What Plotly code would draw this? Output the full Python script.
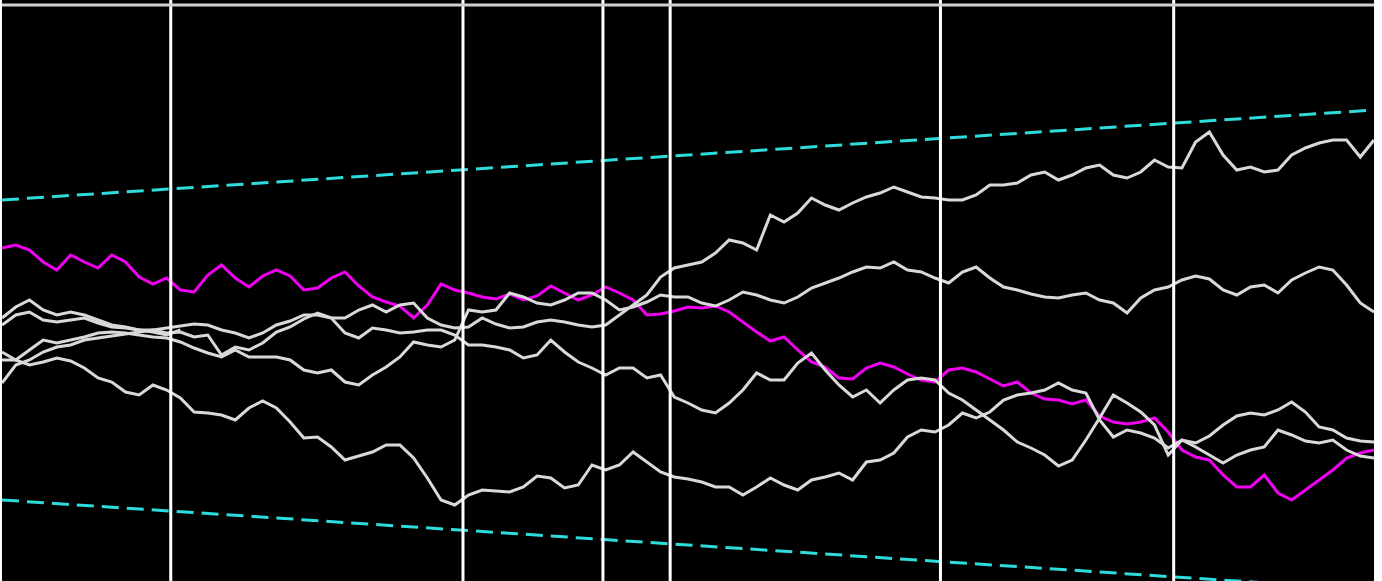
import plotly.graph_objects as go

# time grid step (arbitrary time units, 0..1000)
step = 10

magenta_walk = [
    1.02, 1.05, 1.00, 0.88, 0.80, 0.95, 0.88, 0.82, 0.95, 0.88,
    0.73, 0.66, 0.72, 0.60, 0.58, 0.75, 0.85, 0.72, 0.63, 0.74,
    0.80, 0.74, 0.60, 0.62, 0.72, 0.78, 0.64, 0.53, 0.48, 0.44,
    0.32, 0.45, 0.66, 0.60, 0.57, 0.53, 0.51, 0.56, 0.50, 0.54,
    0.64, 0.57, 0.50, 0.55, 0.63, 0.57, 0.50, 0.35, 0.36, 0.39,
    0.43, 0.42, 0.44, 0.38, 0.28, 0.18, 0.09, 0.13, 0.00, -0.12,
    -0.17, -0.28, -0.29, -0.18, -0.13, -0.17, -0.24, -0.30, -0.32, -0.20,
    -0.18, -0.22, -0.29, -0.36, -0.32, -0.43, -0.49, -0.50, -0.54, -0.50,
    -0.66, -0.72, -0.74, -0.72, -0.68, -0.82, -1.00, -1.07, -1.10, -1.25,
    -1.37, -1.37, -1.25, -1.43, -1.50, -1.40, -1.30, -1.20, -1.08, -1.03, -1.00,
]

walk_1 = [
    0.32, 0.43, 0.50, 0.40, 0.35, 0.38, 0.35, 0.30, 0.25, 0.23,
    0.20, 0.20, 0.17, 0.18, 0.13, 0.15, -0.05, 0.03, 0.00, 0.07,
    0.18, 0.23, 0.31, 0.37, 0.32, 0.32, 0.40, 0.45, 0.38, 0.45,
    0.47, 0.32, 0.25, 0.22, 0.23, 0.32, 0.26, 0.22, 0.23, 0.28,
    0.30, 0.28, 0.25, 0.23, 0.25, 0.35, 0.45, 0.55, 0.73, 0.82,
    0.85, 0.88, 0.97, 1.10, 1.07, 1.00, 1.35, 1.28, 1.37, 1.52,
    1.45, 1.40, 1.47, 1.53, 1.57, 1.63, 1.58, 1.53, 1.52, 1.50,
    1.50, 1.55, 1.65, 1.65, 1.67, 1.75, 1.78, 1.70, 1.75, 1.82,
    1.85, 1.75, 1.72, 1.78, 1.90, 1.83, 1.82, 2.08, 2.18, 1.95,
    1.80, 1.83, 1.78, 1.80, 1.95, 2.02, 2.07, 2.10, 2.10, 1.93, 2.10,
]

walk_2 = [
    -0.02, -0.10, 0.00, 0.10, 0.07, 0.10, 0.13, 0.17, 0.18, 0.17,
    0.15, 0.13, 0.12, 0.08, 0.02, -0.03, -0.07, 0.00, -0.07, -0.07,
    -0.07, -0.10, -0.20, -0.23, -0.20, -0.32, -0.35, -0.25, -0.17, -0.07,
    0.08, 0.05, 0.03, 0.10, 0.40, 0.38, 0.40, 0.57, 0.53, 0.47,
    0.45, 0.50, 0.57, 0.57, 0.50, 0.40, 0.43, 0.48, 0.55, 0.53,
    0.53, 0.47, 0.44, 0.50, 0.58, 0.55, 0.50, 0.47, 0.53, 0.62,
    0.67, 0.72, 0.78, 0.83, 0.82, 0.88, 0.80, 0.78, 0.72, 0.67,
    0.78, 0.83, 0.72, 0.63, 0.60, 0.56, 0.53, 0.52, 0.55, 0.57,
    0.50, 0.47, 0.37, 0.52, 0.60, 0.63, 0.70, 0.74, 0.71, 0.60,
    0.55, 0.63, 0.65, 0.57, 0.70, 0.77, 0.83, 0.80, 0.65, 0.47, 0.38,
]

walk_3 = [
    -0.33, -0.15, -0.10, -0.02, 0.03, 0.05, 0.10, 0.12, 0.14, 0.16,
    0.18, 0.20, 0.22, 0.24, 0.26, 0.25, 0.20, 0.17, 0.12, 0.17,
    0.25, 0.29, 0.35, 0.35, 0.32, 0.17, 0.12, 0.22, 0.20, 0.17,
    0.18, 0.20, 0.20, 0.15, 0.05, 0.05, 0.03, 0.00, -0.08, -0.05,
    0.10, -0.02, -0.12, -0.18, -0.25, -0.18, -0.18, -0.28, -0.25, -0.47,
    -0.53, -0.60, -0.63, -0.53, -0.40, -0.23, -0.30, -0.30, -0.13, -0.03,
    -0.20, -0.35, -0.47, -0.40, -0.53, -0.40, -0.30, -0.28, -0.30, -0.43,
    -0.50, -0.60, -0.70, -0.80, -0.92, -0.98, -1.05, -1.16, -1.10, -0.90,
    -0.68, -0.45, -0.53, -0.62, -0.75, -1.05, -0.90, -0.97, -1.05, -1.13,
    -1.05, -1.00, -0.97, -0.80, -0.85, -0.91, -0.93, -0.90, -1.00, -1.06, -1.08,
]

walk_4 = [
    0.25, 0.35, 0.38, 0.30, 0.28, 0.30, 0.32, 0.27, 0.23, 0.22,
    0.20, 0.18, 0.15, 0.20,
]

walk_5 = [
    -0.10, -0.10, -0.15, -0.12, -0.08, -0.11, -0.18, -0.28, -0.32, -0.42,
    -0.45, -0.35, -0.40, -0.48, -0.62, -0.63, -0.65, -0.70, -0.58, -0.51,
    -0.58, -0.72, -0.88, -0.87, -0.97, -1.10, -1.06, -1.02, -0.95, -0.95,
    -1.08, -1.28, -1.50, -1.55, -1.45, -1.40, -1.41, -1.42, -1.37, -1.26,
    -1.28, -1.38, -1.35, -1.15, -1.20, -1.15, -1.02, -1.12, -1.22, -1.27,
    -1.29, -1.32, -1.37, -1.37, -1.45, -1.37, -1.28, -1.35, -1.40, -1.30,
    -1.27, -1.23, -1.30, -1.12, -1.10, -1.03, -0.87, -0.80, -0.82, -0.75,
    -0.63, -0.68, -0.62, -0.50, -0.45, -0.43, -0.40, -0.33, -0.40, -0.43,
    -0.70, -0.87, -0.80, -0.83, -0.88, -0.98, -0.90, -0.93, -0.86, -0.75,
    -0.66, -0.63, -0.65, -0.60, -0.52, -0.62, -0.77, -0.80, -0.88, -0.91, -0.92,
]

bound_t = [0, 1000]
upper_bound = [1.5, 2.4]
lower_bound = [-1.5, -2.4]

event_times = [123, 336, 438, 487, 684, 854]
top_rule = 3.45

white_walks = [walk_1, walk_2, walk_3, walk_4, walk_5]

fig = go.Figure()

fig.add_trace(go.Scatter(
    x=[i * step for i in range(len(magenta_walk))], y=magenta_walk,
    mode="lines", line=dict(color="#f000f0", width=3), showlegend=False,
))
for w in white_walks:
    fig.add_trace(go.Scatter(
        x=[i * step for i in range(len(w))], y=w,
        mode="lines", line=dict(color="#d9d9d9", width=3), showlegend=False,
    ))
for b in (upper_bound, lower_bound):
    fig.add_trace(go.Scatter(
        x=bound_t, y=b, mode="lines",
        line=dict(color="#2fdcdc", width=3, dash="17px,8px"), showlegend=False,
    ))

for t in event_times:
    fig.add_shape(type="line", x0=t, x1=t, y0=0, y1=1, xref="x", yref="paper",
                  line=dict(color="white", width=3), layer="above")
fig.add_shape(type="line", x0=0, x1=1, y0=top_rule, y1=top_rule, xref="paper", yref="y",
              line=dict(color="#cfcfcf", width=3), layer="above")

fig.update_layout(
    width=1382, height=581,
    margin=dict(l=2, r=8, t=0, b=0),
    paper_bgcolor="white", plot_bgcolor="black",
    xaxis=dict(range=[0, 1000], visible=False, showgrid=False, zeroline=False),
    yaxis=dict(range=[-2.31, 3.5], visible=False, showgrid=False, zeroline=False),
)

fig.write_html("out.html", config={"displayModeBar": False},
               post_script="document.body.style.margin='0';")
